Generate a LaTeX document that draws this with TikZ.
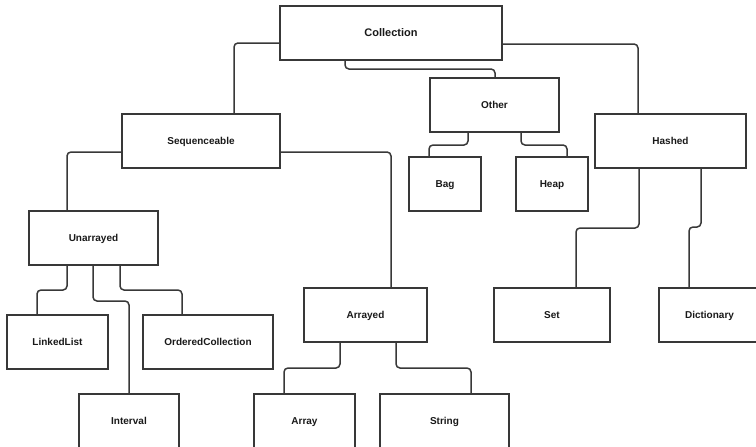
\documentclass[tikz,border=0pt]{standalone}
\usepackage{fontspec}
\setmainfont{Liberation Sans}
\begin{document}
\begin{tikzpicture}[x=1pt,y=-1pt,
  box/.style={draw=black!78,line width=1.2pt,fill=white,inner sep=0pt,minimum height=54pt,text height=7.2pt,text depth=0pt,font=\fontsize{10}{12}\selectfont\bfseries,text=black!90},
  conn/.style={draw=black!78,line width=1.5pt,rounded corners=4pt}]
\useasboundingbox (0,0) rectangle (756,447);
\node[box,minimum width=222pt,text height=7.9pt,font=\fontsize{11}{13}\selectfont\bfseries] (coll) at (391,33) {Collection};
\node[box,minimum width=129pt] (other) at (494.5,105) {Other};
\node[box,minimum width=151pt] (hashed) at (670.5,141) {Hashed};
\node[box,minimum width=72pt] (heap) at (552,184) {Heap};
\node[box,minimum width=72pt] (bag) at (445,184) {Bag};
\node[box,minimum width=158pt] (seq) at (201,141) {Sequenceable};
\node[box,minimum width=129pt] (unarr) at (93.5,238) {Unarrayed};
\node[box,minimum width=101pt] (ll) at (57.5,342) {LinkedList};
\node[box,minimum width=130pt] (oc) at (208,342) {OrderedCollection};
\node[box,minimum width=100pt] (interval) at (129,421) {Interval};
\node[box,minimum width=123pt] (arrayed) at (365.5,315) {Arrayed};
\node[box,minimum width=101pt] (array) at (304.5,421) {Array};
\node[box,minimum width=129pt] (string) at (444.5,421) {String};
\node[box,minimum width=116pt] (set) at (552,315) {Set};
\node[box,minimum width=101pt] (dict) at (709.5,315) {Dictionary};
\path[conn] (coll.west |- 0,43) -| (seq.north -| 234,0);
\path[conn] (coll.south -| 345,0) |- (495,69) -- (other.north -| 495,0);
\path[conn] (coll.east |- 0,44) -| (hashed.north -| 638,0);
\path[conn] (other.south -| 468,0) |- (429,145) -- (bag.north -| 429,0);
\path[conn] (other.south -| 521,0) |- (567,145) -- (heap.north -| 567,0);
\path[conn] (seq.west |- 0,152) -| (unarr.north -| 67,0);
\path[conn] (seq.east |- 0,152) -| (arrayed.north -| 391,0);
\path[conn] (unarr.south -| 67,0) |- (37,290) -- (ll.north -| 37,0);
\path[conn] (unarr.south -| 93,0) |- (129,301) -- (interval.north -| 129,0);
\path[conn] (unarr.south -| 120,0) |- (182,290) -- (oc.north -| 182,0);
\path[conn] (arrayed.south -| 340,0) |- (284,368) -- (array.north -| 284,0);
\path[conn] (arrayed.south -| 396,0) |- (471,368) -- (string.north -| 471,0);
\path[conn] (hashed.south -| 639,0) |- (576,228) -- (set.north -| 576,0);
\path[conn] (hashed.south -| 701,0) |- (689,227) -- (dict.north -| 689,0);
\end{tikzpicture}
\end{document}
